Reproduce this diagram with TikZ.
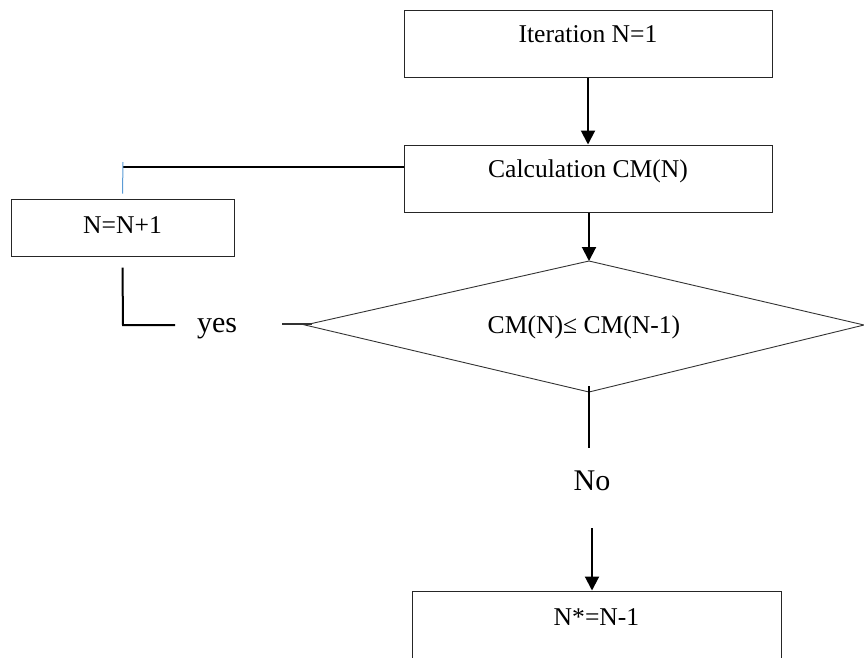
\documentclass[tikz,border=0pt]{standalone}
\usepackage{fontspec}
\setmainfont{Liberation Serif}
\usetikzlibrary{arrows.meta}
\begin{document}
\begin{tikzpicture}[x=1pt,y=-1pt,
  box/.style={draw=black!85,line width=1pt,rectangle,inner sep=0pt,font=\fontsize{25.6pt}{30pt}\selectfont},
  lbl/.style={inner sep=0pt,anchor=base,font=\fontsize{30pt}{34pt}\selectfont},
  txt/.style={inner sep=0pt,anchor=base,font=\fontsize{25.6pt}{30pt}\selectfont},
  conn/.style={line width=2pt,black},
  arr/.style={conn,-{Triangle[width=14pt,length=14pt]}},
  thin/.style={line width=0.9pt,black!80}]
\useasboundingbox (0,0) rectangle (864,657);
\clip (0,0) rectangle (864,657);
% boxes
\node[box,minimum width=368pt,minimum height=67pt,text height=17pt,text depth=19pt] (iter) at (588,43.5) {Iteration N=1};
\node[box,minimum width=368pt,minimum height=67pt,text height=17pt,text depth=20pt] (calc) at (588,178.5) {Calculation CM(N)};
\node[box,minimum width=223pt,minimum height=57pt,text height=17pt,text depth=6pt] (inc) at (122.5,227.5) {N=N+1};
\node[box,minimum width=369pt,minimum height=89pt] (res) at (596.5,635.5) {};
\node[txt] (restxt) at (596.5,625) {N*=N-1};
% diamond
\coordinate (dl) at (305,325);
\coordinate (dt) at (589,261);
\coordinate (dr) at (864,325);
\coordinate (db) at (589,392);
\draw[thin] (dl) -- (dt) -- (dr) -- (db) -- cycle;
\node[txt] (cond) at (584,333) {CM(N)≤ CM(N-1)};
% labels
\node[lbl] (yes) at (217,332) {yes};
\node[lbl] (no) at (592,490) {No};
% connectors
\draw[arr] (iter.south) -- (calc.north);
\draw[arr] (calc.south -| dt) -- (dt);
\coordinate (lc) at (123,167);
\draw[conn,line width=1.6pt] ([yshift=11.5pt]calc.west) -- (lc);
\draw[line width=1pt,color={rgb,255:red,91;green,155;blue,213}] (123,162) -- ([yshift=5pt]inc.north);
\coordinate (yc) at (123,325);
\draw[conn] ([yshift=-11pt]inc.south) -- (yc) -- (175,325);
\coordinate (ys) at (282,324);
\draw[thin,line width=1.2pt] (ys) -- (312,324);
\draw[conn] ([yshift=6pt]db) -- (589,448);
\coordinate (a3) at (592,528);
\draw[arr] (a3) -- (a3 |- res.north);
\end{tikzpicture}
\end{document}
